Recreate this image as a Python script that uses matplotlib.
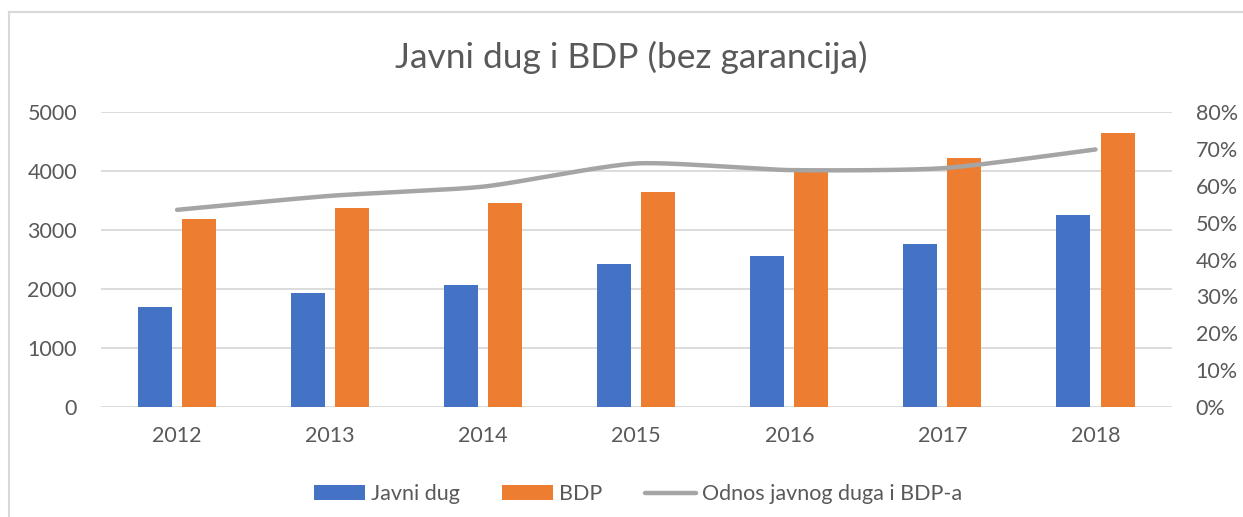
import matplotlib
matplotlib.use('Agg')
import matplotlib.pyplot as plt
from matplotlib.lines import Line2D
from matplotlib.ticker import FuncFormatter
import numpy as np

years = ['2012', '2013', '2014', '2015', '2016', '2017', '2018']
javni_dug = [1690, 1930, 2070, 2420, 2560, 2770, 3255]
bdp = [3190, 3370, 3465, 3640, 3980, 4230, 4655]
odnos = [0.535, 0.573, 0.598, 0.661, 0.643, 0.648, 0.699]

c_blue = '#4472c4'
c_orange = '#ed7d31'
c_gray = '#a5a5a5'
c_text = '#595959'
c_grid = '#d9d9d9'

plt.rcParams['font.family'] = ['Lato', 'DejaVu Sans']


def smooth(xs, ys, n=40, k=9):
    # excel-like smoothed line (bezier through the points)
    xs = np.asarray(xs, float)
    ys = np.asarray(ys, float)
    px = np.concatenate([[xs[0]], xs, [xs[-1]]])
    py = np.concatenate([[ys[0]], ys, [ys[-1]]])
    outx, outy = [], []
    t = np.linspace(0, 1, n)
    for i in range(1, len(px) - 2):
        x0, y0 = px[i], py[i]
        x3, y3 = px[i + 1], py[i + 1]
        x1 = x0 + (px[i + 1] - px[i - 1]) / k
        y1 = y0 + (py[i + 1] - py[i - 1]) / k
        x2 = x3 - (px[i + 2] - px[i]) / k
        y2 = y3 - (py[i + 2] - py[i]) / k
        bx = (1-t)**3*x0 + 3*(1-t)**2*t*x1 + 3*(1-t)*t**2*x2 + t**3*x3
        by = (1-t)**3*y0 + 3*(1-t)**2*t*y1 + 3*(1-t)*t**2*y2 + t**3*y3
        outx.extend(bx)
        outy.extend(by)
    return outx, outy


fig = plt.figure(figsize=(12.43, 5.17), dpi=100)
ax = fig.add_axes([0.0809, 0.2133, 0.8620, 0.5695])
ax2 = ax.twinx()

x = np.arange(len(years))
w = 0.222
off = 0.144
b1 = ax.bar(x - off, javni_dug, w, color=c_blue, zorder=2, label='Javni dug')
b2 = ax.bar(x + off, bdp, w, color=c_orange, zorder=2, label='BDP')

sx, sy = smooth(x, odnos)
l1, = ax2.plot(sx, sy, color=c_gray, lw=3.2, solid_capstyle='round',
               label='Odnos javnog duga i BDP-a')

ax.set_xlim(-0.5, len(years) - 0.5)
ax.set_ylim(0, 5000)
ax.set_yticks(range(0, 5001, 1000))
ax2.set_ylim(0, 0.8)
ax2.set_yticks(np.arange(0, 0.81, 0.1))
ax2.yaxis.set_major_formatter(FuncFormatter(lambda v, p: f'{v*100:.0f}%'))

ax.set_xticks(x)
ax.set_xticklabels(years)
ax.set_axisbelow(True)
ax.yaxis.grid(True, color=c_grid, lw=1.3)
for a in (ax, ax2):
    for s in a.spines.values():
        s.set_visible(False)
ax.tick_params(axis='y', length=0, pad=17, labelsize=15.5, labelcolor=c_text)
ax.tick_params(axis='x', length=0, pad=14, labelsize=15.5, labelcolor=c_text)
ax2.tick_params(axis='y', length=0, pad=17, labelsize=15.5, labelcolor=c_text)

fig.text(0.508, 0.868, 'Javni dug i BDP (bez garancija)', ha='center',
         va='baseline', fontsize=25.5, color=c_text)

leg = fig.legend([b1, b2, l1], ['Javni dug', 'BDP', 'Odnos javnog duga i BDP-a'],
                 loc='center', bbox_to_anchor=(0.5133, 0.0445), ncol=3,
                 frameon=False, fontsize=15.5, handlelength=2.37,
                 handleheight=0.65, handletextpad=0.28, columnspacing=1.95,
                 labelcolor=c_text)

# chart border (left and top visible)
fig.add_artist(Line2D([9/1243, 9/1243], [0, 1 - 12/517], color=c_grid, lw=1.5))
fig.add_artist(Line2D([9/1243, 1], [1 - 12/517, 1 - 12/517], color=c_grid, lw=1.5))

fig.savefig('out.png', dpi=100)
